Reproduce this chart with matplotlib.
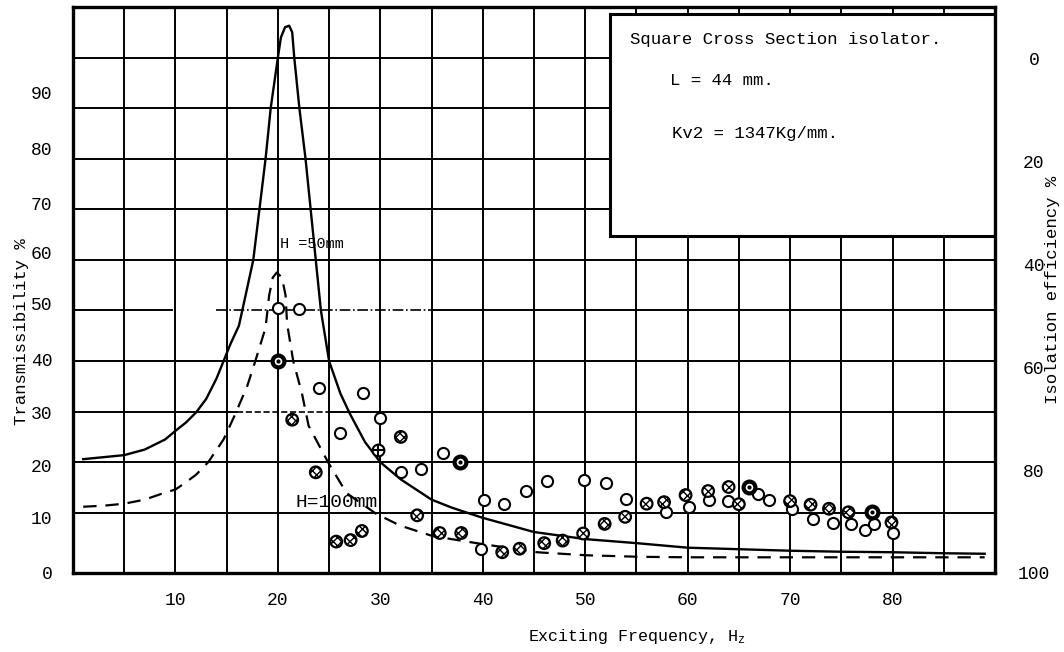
import matplotlib
matplotlib.use("Agg")
import matplotlib.pyplot as plt
from matplotlib.patches import Rectangle

plt.rcParams['font.family'] = ['Liberation Mono', 'DejaVu Sans Mono']

# Theoretical curves (frequency Hz, transmissibility %)
solid_f = [1, 3, 5, 7, 9, 10, 11, 12, 13, 14, 14.7, 15.4, 16.2, 16.85, 17.6, 18.2,
           18.8, 19.3, 20.0, 20.3, 20.7, 21.1, 21.4, 21.6, 22.1, 22.7, 23.2, 23.7,
           24.2, 25.0, 26.1, 27.0, 28.5, 30.0, 32.0, 35.0, 37.0, 40, 45, 50, 55,
           60, 65, 70, 75, 80, 85, 89]
solid_t = [20.6, 21.0, 21.4, 22.5, 24.5, 26.2, 27.8, 29.8, 32.5, 36.5, 40.0, 43.5,
           47.0, 53.0, 60.0, 70.0, 80.0, 90.0, 100.0, 104.0, 106.0, 106.3, 105.0,
           100.0, 90.0, 80.0, 70.0, 60.0, 50.0, 40.0, 33.6, 29.7, 24.0, 20.0, 16.6,
           12.6, 11.0, 9.0, 6.2, 4.8, 4.0, 3.1, 2.8, 2.5, 2.3, 2.2, 2.0, 1.9]

dash_f = [1, 3, 5, 7, 9, 10, 11, 12, 13.2, 14.7, 15.75, 17.0, 17.8, 18.8, 19.15,
          19.5, 19.9, 20.4, 20.75, 20.9, 21.5, 22.35, 23.0, 24.9, 26.7, 29.6,
          31.9, 35.1, 39.7, 45.3, 50.1, 55.3, 60, 70, 80, 89]
dash_t = [11.2, 11.4, 11.8, 12.6, 14.0, 14.6, 16.0, 17.5, 20.0, 24.5, 29.1, 35.0,
          40.0, 46.6, 53.0, 56.5, 57.5, 56.5, 53.0, 47.4, 40.0, 33.6, 27.2, 20.0,
          13.9, 9.8, 7.5, 5.4, 3.9, 2.2, 1.6, 1.3, 1.2, 1.2, 1.2, 1.2]

# Measured points
open_f = [20.0, 22.1, 24.0, 28.3, 26.1, 30.0, 36.1, 32.0, 34.0, 40.1, 42.1, 44.2,
          46.3, 49.9, 52.0, 54.0, 39.8, 57.9, 60.1, 62.1, 63.9, 66.9, 67.9, 70.2,
          72.2, 74.2, 75.9, 77.3, 78.2, 80.0]
open_t = [50.4, 50.2, 34.7, 33.7, 25.7, 28.7, 21.8, 18.1, 18.6, 12.5, 11.8, 14.4,
          16.2, 16.4, 15.9, 12.7, 2.8, 10.2, 11.2, 12.5, 12.4, 13.7, 12.6, 10.7,
          8.8, 8.0, 7.7, 6.6, 7.7, 6.0]

hatch_f = [21.4, 23.7, 32.0, 33.6, 25.7, 27.1, 28.2, 35.8, 37.9, 41.9, 43.6, 46.0,
           47.8, 49.8, 51.9, 53.9, 56.0, 57.7, 59.8, 62.0, 64.0, 65.0, 70.0, 72.0,
           73.8, 75.7, 79.9]
hatch_t = [28.4, 18.0, 25.0, 9.5, 4.3, 4.6, 6.4, 6.0, 6.0, 2.2, 2.9, 4.0, 4.5,
           5.9, 7.8, 9.2, 11.8, 12.1, 13.5, 14.3, 15.1, 11.7, 12.3, 11.6, 10.8,
           10.1, 8.1]

bold_f = [20.0, 37.8, 66.0, 78.0]
bold_t = [40.0, 20.0, 15.0, 10.1]

plus_f = [29.8]
plus_t = [22.5]

# y labels were typed a little off the grid lines on the original sheet
ytick_pos = [-1.9, 9.0, 19.4, 29.9, 40.4, 51.3, 61.4, 71.1, 82.1, 93.0]
ytick_lab = ['0', '10', '20', '30', '40', '50', '60', '70', '80', '90']
xtick_pos = [10, 20, 30, 40, 50, 60, 70, 80]
xtick_lab = ['10', '20', '30', '40', '50', '60', '70', '80']
rtick_pos = [100, 80, 60, 40, 20, 0]
rtick_lab = ['0', '20', '40', '60', '80', '100']

fig = plt.figure(figsize=(10.64, 6.52), dpi=100)
ax = fig.add_axes([0.0686, 0.1212, 0.8665, 0.8681])
ax.set_xlim(0, 90)
ax.set_ylim(0, 110)

# graph paper grid
for f in range(5, 90, 5):
    ax.axvline(f, color='k', lw=1.4, zorder=1)
for t in range(10, 110, 10):
    if t == 50:
        ax.plot([0, 9.7], [t, t], color='k', lw=1.4, zorder=1)
        ax.plot([14, 35], [t, t], color='k', lw=1.2, ls='-.', zorder=1)
        ax.plot([35, 90], [t, t], color='k', lw=1.4, zorder=1)
    elif t == 30:
        ax.plot([0, 16], [t, t], color='k', lw=1.4, zorder=1)
        ax.plot([16, 25], [t, t], color='k', lw=1.2, ls='--', zorder=1)
        ax.plot([25, 90], [t, t], color='k', lw=1.4, zorder=1)
    else:
        ax.axhline(t, color='k', lw=1.4, zorder=1)

# label box in the upper right
ax.add_patch(Rectangle((52.4, 64.7), 90 - 52.4, 108.6 - 64.7, facecolor='white',
                       edgecolor='k', lw=2.2, zorder=3))
ax.text(54.4, 103.5, 'Square Cross Section isolator.', fontsize=12.5, va='center', zorder=6)
ax.text(58.3, 95.5, 'L = 44 mm.', fontsize=12.5, va='center', zorder=6)
ax.text(58.5, 84.9, 'Kv2 = 1347Kg/mm.', fontsize=12.5, va='center', zorder=6)

# curves
ax.plot(solid_f, solid_t, color='k', lw=1.7, zorder=4)
ax.plot(dash_f, dash_t, color='k', lw=1.6, ls=(0, (6, 4)), zorder=4)
ax.text(20.2, 63.1, 'H =50mm', fontsize=11, va='center', zorder=6)
ax.text(21.7, 12.0, 'H=100mm', fontsize=14, va='center', zorder=6)

# points
ax.plot(open_f, open_t, 'o', mfc='white', mec='k', ms=8, mew=1.5, zorder=5)
ax.scatter(hatch_f, hatch_t, s=70, facecolors='white', edgecolors='k',
           linewidths=1.6, hatch='xxxx', zorder=5)
ax.plot(bold_f, bold_t, 'o', mfc='white', mec='k', ms=8.5, mew=3.0, zorder=5)
ax.plot(bold_f, bold_t, '.', color='k', ms=4, zorder=6)
ax.plot(plus_f, plus_t, 'o', mfc='white', mec='k', ms=8.5, mew=1.5, zorder=5)
ax.plot(plus_f, plus_t, '+', color='k', ms=8.5, mew=1.5, zorder=6)

for s in ax.spines.values():
    s.set_linewidth(2.4)
    s.set_zorder(7)

ax.set_xticks(xtick_pos, xtick_lab)
ax.set_yticks(ytick_pos, ytick_lab)
ax.tick_params(length=0, labelsize=13)
ax.tick_params(axis='x', pad=14)
ax.tick_params(axis='y', pad=15)

ax2 = ax.twinx()
ax2.set_ylim(0, 110)
ax2.set_yticks(rtick_pos, rtick_lab)
ax2.tick_params(length=0, labelsize=13, pad=28)
for lab in ax2.get_yticklabels():
    lab.set_ha('center')
for s in ax2.spines.values():
    s.set_visible(False)

fig.text(22 / 1064, 1 - 332 / 652, 'Transmissibility %', rotation=90,
         ha='center', va='center', fontsize=12.5)
fig.text(1052 / 1064, 1 - 290 / 652, 'Isolation efficiency %', rotation=90,
         ha='center', va='center', fontsize=12.5)
fig.text(637 / 1064, 1 - 637 / 652, r'Exciting Frequency, H$\mathregular{_z}$',
         ha='center', va='center', fontsize=12)

fig.savefig('out.png', dpi=100)
